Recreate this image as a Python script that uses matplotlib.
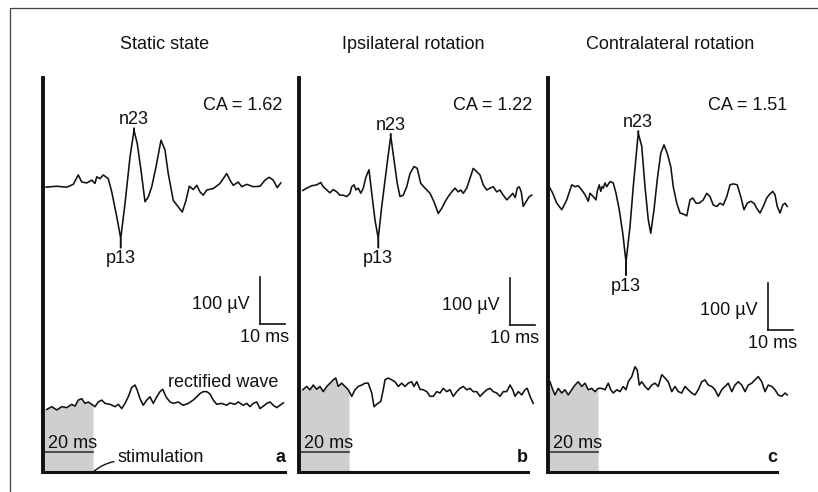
import numpy as np
import matplotlib
matplotlib.use("Agg")
import matplotlib.pyplot as plt
from matplotlib.lines import Line2D

plt.rcParams['font.family'] = ['Liberation Sans', 'DejaVu Sans']
plt.rcParams['font.size'] = 13

# ---------------------------------------------------------------- data
panel_titles = ["Static state", "Ipsilateral rotation", "Contralateral rotation"]
panel_letters = ["a", "b", "c"]
ca_values = [1.62, 1.22, 1.51]
stim_ms = 20          # stimulation window / time bar (ms)
scale_ms = 10         # calibration bar, time (ms)
scale_uv = 100        # calibration bar, amplitude (µV)

# averaged raw EMG, static state (ms, µV)
static_t = [1.2, 5.5, 9.5, 12.1, 14.1, 15.5, 17.5, 19.5, 20.8, 21.5, 22.8, 24.1, 26.1, 27.5,
            29.5, 31.1, 32.8, 34.8, 36.4, 37.7, 39.2, 40.8, 42.1, 43.5, 45.2, 47.2, 48.8, 50.1,
            52.1, 54.1, 55.7, 57.2, 58.5, 60.1, 61.5, 62.8, 64.1, 65.5, 68.1, 70.8, 73.5, 74.8,
            76.1, 78.1, 79.5, 81.5, 84.1, 86.8, 88.8, 90.5, 92.1, 93.7, 95.1]
static_uv = [0, 2, 0, 6, 26, 11, 9, 15, 8, 22, 18, 26, 18, -10,
             -63, -109, -35, 64, 121, 93, 36, -31, -21, 1, 43, 100, 79, 29,
             -28, -42, -53, -28, 2, -5, 4, -10, -17, -6, -3, 8, 29, 15,
             4, 11, 1, 6, 1, 2, 15, 21, 15, -1, 9]
# rectified background EMG, static state
static_rect_t = [1.5, 3.5, 5.5, 7.5, 9.5, 11.5, 12.8, 14.1, 15.5, 16.8, 18.1, 19.5, 20.8, 22.1,
                 23.5, 24.8, 26.8, 28.8, 30.1, 31.5, 32.8, 34.1, 35.5, 36.8, 37.7, 38.8, 40.1,
                 41.5, 42.8, 44.1, 45.5, 46.8, 47.9, 49.2, 50.8, 52.1, 54.1, 56.1, 58.1, 60.1,
                 61.5, 62.8, 64.1, 65.5, 66.8, 68.1, 69.5, 71.5, 73.5, 74.8, 76.8, 78.1, 80.1,
                 81.5, 82.8, 84.1, 85.5, 86.8, 88.1, 89.5, 90.8, 92.1, 93.5, 94.8, 96.1]
static_rect_uv = [-5, 1, -6, 1, -1, 6, 2, 15, 18, 8, 11, 6, 1, 11,
                  15, 8, 6, 1, 6, -3, 8, 22, 42, 47, 36, 18, 4,
                  15, 22, 8, 22, 33, 38, 22, 11, 8, 11, 4, 8, 15,
                  22, 29, 33, 33, 28, 15, 6, 8, 4, 9, 6, 11, 4,
                  8, 1, 8, 11, -3, 2, 8, 11, 4, -1, 4, 9]

# ipsilateral rotation
ipsi_t = [1.5, 3.1, 5.1, 7.1, 8.7, 9.7, 11.1, 12.4, 13.7, 15.1, 16.4, 17.7, 19.1, 20.4, 21.1,
          22.0, 22.8, 23.7, 24.7, 25.7, 26.8, 28.0, 29.1, 30.4, 31.7, 33.1, 35.1, 36.7, 38.0,
          39.3, 40.4, 41.7, 43.1, 44.4, 46.0, 47.3, 48.7, 50.4, 52.4, 54.0, 55.7, 57.1, 58.4,
          59.7, 61.1, 62.4, 63.7, 64.7, 65.7, 67.1, 68.4, 69.7, 71.1, 72.4, 73.7, 75.1, 76.4,
          77.7, 79.1, 80.4, 81.7, 83.1, 84.4, 85.5, 86.5, 87.3, 88.1, 88.9, 89.7, 90.8, 92.1, 93.1]
ipsi_uv = [-1, 4, 9, 11, 16, 7, 0, -6, 1, -4, -11, -11, -14, -7, 7,
           11, 0, 4, -7, 4, 28, 43, -7, -64, -103, -35, 50, 115, 64,
           14, -14, -11, 7, 35, 50, 46, 14, 4, -7, -25, -50, -39, -25,
           -14, -4, 4, -4, 0, -7, 4, 25, 46, 39, 32, 11, 0, 4,
           7, -4, 0, -11, -21, -14, -7, -16, 4, 7, -4, -35, -25, -14, -11]
ipsi_rect_t = [1.5, 3.1, 4.4, 5.7, 7.1, 8.4, 9.7, 11.1, 12.4, 13.7, 14.7, 15.7, 17.1, 18.4,
               19.7, 21.1, 22.4, 23.7, 25.1, 26.4, 27.7, 29.1, 30.0, 31.3, 32.7, 33.7, 34.4,
               35.7, 37.1, 38.4, 39.7, 41.1, 42.4, 43.7, 45.1, 46.0, 47.1, 48.4, 49.7, 51.1,
               52.4, 53.7, 55.1, 56.4, 57.7, 59.1, 60.4, 61.7, 63.1, 64.4, 65.7, 67.1, 68.4,
               69.7, 71.1, 72.4, 73.7, 75.1, 76.4, 77.7, 79.1, 80.4, 81.7, 83.1, 84.4, 85.5,
               86.4, 87.7, 89.1, 90.4, 91.3, 92.4, 93.7]
ipsi_rect_uv = [-4, 3, -4, 6, -3, 3, -8, 3, 10, 17, 21, 3, 10, 3,
                -4, -18, -4, 3, 6, 10, 10, -11, -40, -34, -29, -4, 17,
                21, 17, 13, 3, 10, 3, 10, 13, 3, 13, -3, -4, -8,
                -18, -18, -8, -11, -1, -8, -4, -18, -8, -1, 3, -4, -1,
                -8, -8, -18, -11, -4, -1, -8, -11, -18, -8, -8, 6, -4,
                -18, -8, -15, -4, -1, -18, -33]

# contralateral rotation
contra_t = [0.5, 1.9, 3.5, 5.5, 7.5, 9.5, 10.8, 12.1, 13.5, 14.8, 16.1, 16.8, 18.1, 19.2,
            19.7, 20.5, 21.1, 21.6, 22.1, 22.8, 23.5, 24.8, 26.1, 27.2, 28.5, 29.9, 31.2,
            32.8, 34.1, 36.1, 37.5, 38.8, 40.1, 41.1, 42.4, 43.7, 45.1, 46.4, 47.7, 49.1,
            50.1, 51.5, 52.8, 54.1, 55.5, 56.8, 57.9, 59.2, 60.5, 62.1, 63.5, 64.8, 66.1,
            67.5, 68.8, 70.1, 71.5, 72.8, 74.1, 75.7, 77.1, 78.4, 79.7, 81.1, 82.4, 83.5,
            84.8, 86.1, 87.5, 88.5, 89.9, 90.8, 91.7, 92.8, 93.9, 94.8, 95.7]
contra_uv = [13, -1, -22, -36, -15, 17, 13, 15, 6, -4, -18, -1, -8, -15,
             3, 17, 3, 13, 10, 21, 13, 24, 21, -1, -36, -86, -147,
             -72, 13, 127, 99, 13, -57, -86, -36, 28, 84, 102, 84, 56,
             13, -22, -43, -45, -49, -15, -11, -22, -22, -15, -1, -8, -26,
             -29, -22, -26, -8, 17, 19, 17, -8, -36, -22, -18, -22, -33,
             -43, -29, -11, -4, 3, -4, -29, -43, -26, -22, -29]
contra_rect_t = [0.8, 1.9, 2.8, 4.1, 5.5, 6.8, 8.1, 9.5, 10.8, 12.1, 13.5, 14.8, 16.1, 17.5,
                 18.8, 20.1, 21.5, 22.8, 24.1, 25.1, 26.1, 27.5, 28.8, 30.1, 31.2, 32.1, 33.5,
                 34.8, 35.7, 36.5, 37.5, 38.8, 40.1, 41.5, 42.8, 44.1, 45.5, 46.8, 48.1, 49.5,
                 50.8, 52.1, 53.5, 54.8, 56.1, 57.5, 58.8, 60.1, 61.5, 62.8, 64.1, 65.5, 66.8,
                 68.1, 69.5, 70.8, 72.1, 73.5, 74.8, 76.1, 77.5, 78.8, 80.1, 81.5, 82.8, 84.1,
                 85.5, 86.8, 88.1, 89.5, 90.8, 92.1, 93.5, 94.8, 95.7]
contra_rect_uv = [13, -4, -15, -1, -11, -4, -15, -4, 6, 13, 3, 10, -4, -1,
                  -8, -1, -1, -4, 10, -4, -11, -4, -8, 3, -4, 13, 24,
                  45, 38, 6, 13, 3, -4, 6, 10, 3, 28, 21, 13, -8,
                  3, -8, -11, 3, -4, -11, -15, -4, 13, 17, 6, 3, -4,
                  -18, -4, 3, 10, -8, 6, 13, 6, -8, 6, 10, 17, 24,
                  13, -8, 6, 3, -4, -15, -18, -11, -15]

traces = [(static_t, static_uv, static_rect_t, static_rect_uv),
          (ipsi_t, ipsi_uv, ipsi_rect_t, ipsi_rect_uv),
          (contra_t, contra_uv, contra_rect_t, contra_rect_uv)]

# ---------------------------------------------------------------- layout
W, H = 818, 492
PX_PER_MS = 2.5
PX_PER_UV = 0.47
PT = 0.72                     # points per pixel at 100 dpi
TOP, BOTTOM = 78, 472         # pixel rows of panel top / baseline spine

panels = [
    dict(left=43, right=285, raw_base=606, rect_base=138, bar=(86.8, 315),
         title_x=165, ca_x=282, p13_gap=12),
    dict(left=299, right=528, raw_base=600, rect_base=179, bar=(84.4, 313),
         title_x=413, ca_x=532, p13_gap=12),
    dict(left=548, right=777, raw_base=594, rect_base=179, bar=(88.0, 302),
         title_x=670, ca_x=787, p13_gap=16),
]

INK = '#111111'
SHADE = '#cfcfcf'

fig = plt.figure(figsize=(W / 100, H / 100), dpi=100)
fig.patch.set_facecolor('white')

# outer frame of the figure box
fig.add_artist(Line2D([10 / W, 10 / W, 1.0], [0.0, 1 - 8 / H, 1 - 8 / H],
                      transform=fig.transFigure, color='#444444', lw=0.9))


def fig_xy(x, y):
    return x / W, 1 - y / H


for k, (p, (t, uv, rt, ruv)) in enumerate(zip(panels, traces)):
    ax = fig.add_axes([p['left'] / W, (H - BOTTOM) / H,
                       (p['right'] - p['left']) / W, (BOTTOM - TOP) / H])
    ax.set_xlim(0, (p['right'] - p['left']) / PX_PER_MS)
    ax.set_ylim(0, (BOTTOM - TOP) / PX_PER_UV)
    ax.patch.set_alpha(0)
    ax.set_xticks([])
    ax.set_yticks([])
    for s in ('top', 'right'):
        ax.spines[s].set_visible(False)
    ax.spines['left'].set_linewidth(2.8)
    ax.spines['bottom'].set_linewidth(2.2)
    for s in ('left', 'bottom'):
        ax.spines[s].set_color(INK)
        ax.spines[s].set_capstyle('projecting')

    t = np.asarray(t, float)
    uv = np.asarray(uv, float)
    rt = np.asarray(rt, float)
    ruv = np.asarray(ruv, float)

    # stimulation window, shaded under the rectified trace
    ts = np.linspace(0, stim_ms, 200)
    ax.fill_between(ts, 0, p['rect_base'] + np.interp(ts, rt, ruv),
                    color=SHADE, lw=0, zorder=0)

    # traces
    ax.plot(t, p['raw_base'] + uv, color=INK, lw=1.15, clip_on=False, zorder=3)
    ax.plot(rt, p['rect_base'] + ruv, color=INK, lw=1.15, clip_on=False, zorder=3)

    # peak labels
    i_n = int(np.argmax(uv))
    i_p = int(np.argmin(uv))
    ax.annotate('n23', xy=(t[i_n], p['raw_base'] + uv[i_n]),
                xytext=(0, 6 * PT), textcoords='offset points',
                ha='center', va='baseline', color=INK,
                arrowprops=dict(arrowstyle='-', lw=1.4, color=INK,
                                shrinkA=0, shrinkB=0, relpos=(0.5, 0)))
    ax.annotate('p13', xy=(t[i_p], p['raw_base'] + uv[i_p]),
                xytext=(0, -p['p13_gap'] * PT), textcoords='offset points',
                ha='center', va='top', color=INK,
                arrowprops=dict(arrowstyle='-', lw=1.4, color=INK,
                                shrinkA=0, shrinkB=0, relpos=(0.5, 1)))

    # calibration bars
    cx, cy = p['bar']
    ax.plot([cx, cx], [cy, cy + scale_uv], color=INK, lw=1.2, clip_on=False)
    ax.plot([cx, cx + scale_ms], [cy, cy], color=INK, lw=1.2, clip_on=False)
    ax.annotate(f'{scale_uv} µV', xy=(cx, cy), xytext=(-10 * PT, 15 * PT),
                textcoords='offset points', ha='right', va='baseline', color=INK)
    ax.annotate(f'{scale_ms} ms', xy=(cx, cy), xytext=(29 * PT, -18 * PT),
                textcoords='offset points', ha='right', va='baseline', color=INK)

    # stimulation time bar
    bar_y = (BOTTOM - 452) / PX_PER_UV
    ax.plot([0, stim_ms], [bar_y, bar_y], color='#333333', lw=1.2, zorder=2)
    ax.annotate(f'{stim_ms} ms', xy=(0, bar_y), xytext=(5 * PT, 4 * PT),
                textcoords='offset points', ha='left', va='baseline', color=INK)

    # titles, CA values, panel letters
    fig.text(*fig_xy(p['title_x'], 49), panel_titles[k],
             ha='center', va='baseline', color=INK)
    fig.text(*fig_xy(p['ca_x'], 110), f'CA = {ca_values[k]:.2f}',
             ha='right', va='baseline', color=INK)
    fig.text(*fig_xy(p['right'], 462), panel_letters[k],
             ha='right', va='baseline', color=INK, fontweight='bold')

    if k == 0:
        ax.text(50, (BOTTOM - 387) / PX_PER_UV, 'rectified wave',
                ha='left', va='baseline', color=INK)
        ax.annotate('stimulation', xy=(stim_ms, 0),
                    xytext=(118, H - 462), textcoords='figure pixels',
                    ha='left', va='baseline', color=INK,
                    arrowprops=dict(arrowstyle='-', lw=1.0, color=INK,
                                    shrinkA=1, shrinkB=0, relpos=(0, 0.3),
                                    connectionstyle='arc3,rad=0.15'))

fig.savefig('out.png', dpi=100, facecolor='white')
